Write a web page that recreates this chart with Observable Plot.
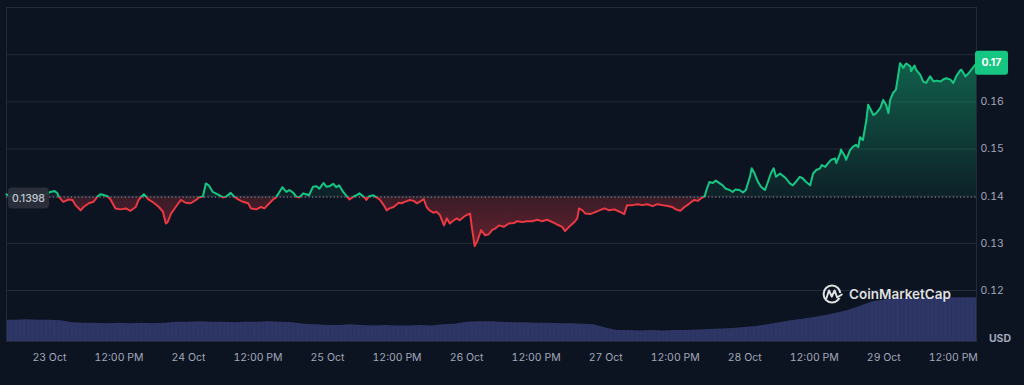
<!DOCTYPE html>
<html>
<head>
<meta charset="utf-8">
<script src="https://cdn.jsdelivr.net/npm/d3@7"></script>
<script src="https://cdn.jsdelivr.net/npm/@observablehq/plot@0.6"></script>
<style>
html, body { margin: 0; padding: 0; background: #0d1421; }
#chart { position: relative; width: 1024px; height: 385px; overflow: hidden; font-family: Inter, "Noto Sans", sans-serif; }
#chart svg { position: absolute; left: 0; top: 0; }
</style>
</head>
<body>
<div id="chart"></div>
<script>
// ---------- data ----------
// hours relative to 23 Oct 00:00
const priceHours = [-7.4,-6.4,-5.0,-3.3,-1.6,-0.5,0.2,0.9,1.4,1.6,2.4,3.3,4.0,4.5,5.4,5.9,6.8,7.6,8.3,8.8,9.2,10.0,10.6,11.4,12.3,13.2,14.0,14.9,15.4,16.3,17.1,18.0,18.9,19.6,20.1,20.4,21.0,21.8,22.7,23.5,24.4,25.3,25.8,26.5,27.0,27.5,28.2,28.7,29.3,30.0,30.5,31.3,31.9,32.6,33.4,34.3,34.8,35.7,36.5,37.1,37.8,38.6,39.1,39.7,40.2,40.9,41.4,42.1,42.6,43.1,43.8,44.3,44.8,45.5,46.1,46.6,47.3,47.8,48.3,49.0,49.5,50.0,50.7,51.3,51.8,52.5,53.0,53.5,54.2,54.7,55.2,55.9,56.5,57.0,57.7,58.2,58.7,59.4,60.3,60.8,61.3,62.2,62.9,63.4,63.9,64.6,65.1,65.6,66.3,66.8,67.4,68.1,68.6,69.1,69.8,70.3,70.8,71.5,72.0,72.6,72.9,73.4,73.9,74.5,75.2,75.8,76.4,76.9,77.6,78.4,79.3,80.2,80.7,81.6,82.4,83.3,84.2,85.0,85.9,86.8,87.6,88.5,89.0,89.7,90.6,91.1,91.4,92.0,92.5,93.3,94.0,94.9,95.8,96.6,97.5,98.4,99.2,99.7,100.6,101.5,102.3,103.2,104.1,104.9,105.8,106.7,107.5,108.1,108.9,109.6,110.1,110.6,111.3,111.9,112.4,113.1,113.4,113.9,114.5,115.0,115.7,116.2,116.7,117.4,117.9,118.4,119.1,119.7,120.2,120.9,121.2,121.7,122.3,122.8,123.5,124.0,124.5,125.0,125.4,126.1,126.6,127.1,127.8,128.3,128.8,129.5,130.0,130.6,131.3,131.8,132.3,133.0,133.3,133.9,134.4,134.9,135.6,135.8,136.5,136.6,137.3,137.5,138.2,138.7,139.2,139.6,139.9,140.4,141.0,141.3,141.6,142.2,142.7,143.4,143.9,144.4,144.8,145.1,145.6,146.1,146.5,146.8,147.4,147.7,147.9,148.6,148.7,149.3,149.6,150.3,150.8,151.3,152.0,152.6,153.1,153.8,154.3,154.8,155.5,156.0,156.5,157.2,157.4,158.1,158.6,159.1,159.8,160.0];
const priceValues = [0.1404,0.1398,0.1401,0.1399,0.1402,0.1405,0.1409,0.1411,0.1406,0.1399,0.1388,0.1393,0.1392,0.1381,0.1370,0.1377,0.1385,0.1388,0.1399,0.1404,0.1403,0.1400,0.1392,0.1374,0.1372,0.1374,0.1369,0.1377,0.1392,0.1404,0.1393,0.1386,0.1377,0.1367,0.1342,0.1345,0.1363,0.1377,0.1392,0.1386,0.1385,0.1392,0.1397,0.1399,0.1427,0.1423,0.1409,0.1406,0.1402,0.1397,0.1399,0.1407,0.1399,0.1393,0.1388,0.1385,0.1374,0.1372,0.1377,0.1374,0.1383,0.1393,0.1397,0.1409,0.1419,0.1409,0.1413,0.1407,0.1399,0.1397,0.1406,0.1404,0.1402,0.1420,0.1421,0.1416,0.1428,0.1420,0.1421,0.1426,0.1419,0.1423,0.1409,0.1400,0.1393,0.1399,0.1402,0.1406,0.1399,0.1392,0.1400,0.1402,0.1397,0.1393,0.1381,0.1370,0.1374,0.1377,0.1386,0.1385,0.1388,0.1392,0.1390,0.1385,0.1388,0.1394,0.1377,0.1370,0.1365,0.1367,0.1360,0.1338,0.1353,0.1342,0.1349,0.1353,0.1349,0.1356,0.1360,0.1363,0.1335,0.1294,0.1306,0.1328,0.1317,0.1319,0.1328,0.1331,0.1338,0.1335,0.1342,0.1343,0.1347,0.1345,0.1347,0.1347,0.1350,0.1347,0.1350,0.1345,0.1340,0.1335,0.1326,0.1335,0.1345,0.1353,0.1374,0.1370,0.1363,0.1362,0.1365,0.1370,0.1374,0.1370,0.1372,0.1367,0.1362,0.1381,0.1381,0.1383,0.1381,0.1383,0.1379,0.1383,0.1381,0.1379,0.1377,0.1372,0.1369,0.1377,0.1381,0.1386,0.1392,0.1390,0.1395,0.1400,0.1413,0.1430,0.1428,0.1433,0.1427,0.1423,0.1416,0.1413,0.1409,0.1414,0.1413,0.1408,0.1413,0.1441,0.1459,0.1448,0.1430,0.1420,0.1413,0.1430,0.1448,0.1459,0.1441,0.1448,0.1443,0.1438,0.1427,0.1423,0.1430,0.1441,0.1438,0.1430,0.1423,0.1448,0.1455,0.1459,0.1466,0.1462,0.1470,0.1477,0.1480,0.1470,0.1491,0.1499,0.1484,0.1477,0.1498,0.1505,0.1509,0.1504,0.1525,0.1519,0.1562,0.1594,0.1587,0.1572,0.1576,0.1587,0.1604,0.1594,0.1576,0.1604,0.1619,0.1626,0.1657,0.1682,0.1672,0.1679,0.1681,0.1675,0.1665,0.1677,0.1668,0.1657,0.1643,0.1640,0.1654,0.1643,0.1645,0.1643,0.1648,0.1650,0.1647,0.1640,0.1654,0.1667,0.1668,0.1654,0.1660,0.1668,0.1679,0.1682];

// volume readings every 2 hours (hour, relative volume units)
const volumeHours = [-8,-6,-4,-2,0,2,4,6,8,10,12,14,16,18,20,22,24,26,28,30,32,34,36,38,40,42,44,46,48,50,52,54,56,58,60,62,64,66,68,70,72,74,76,78,80,82,84,86,88,90,92,94,96,98,100,102,104,106,108,110,112,114,116,118,120,122,124,126,128,130,132,134,136,138,140,142,144,146,148,150,152,154,156,158,160];
const volumeValues = [4.1,4.1,4.2,4.1,4.1,4.0,3.6,3.5,3.5,3.4,3.5,3.4,3.5,3.4,3.5,3.7,3.7,3.8,3.7,3.7,3.6,3.7,3.7,3.8,3.7,3.6,3.3,3.2,3.1,3.1,3.2,3.1,3.0,3.1,3.0,3.0,3.1,3.0,3.2,3.3,3.7,3.8,3.8,3.7,3.6,3.6,3.5,3.5,3.4,3.4,3.3,3.2,2.6,2.1,2.1,2.0,2.1,2.0,2.1,2.1,2.2,2.3,2.4,2.5,2.7,2.9,3.2,3.6,4.0,4.3,4.6,5.0,5.5,6.0,6.8,7.6,8.0,8.2,8.3,8.3,8.3,8.4,8.4,8.4,8.4];

const openPrice = 0.1398;
const gridTicks = [0.12, 0.13, 0.14, 0.15, 0.16, 0.17];
const labelTicks = [0.12, 0.13, 0.14, 0.15, 0.16];
const timeTickHours = [0,12,24,36,48,60,72,84,96,108,120,132,144,156];
const timeTickLabels = ["23 Oct","12:00 PM","24 Oct","12:00 PM","25 Oct","12:00 PM","26 Oct","12:00 PM","27 Oct","12:00 PM","28 Oct","12:00 PM","29 Oct","12:00 PM"];
const currencyLabel = "USD";
const brandLabel = "CoinMarketCap";

// ---------- build ----------
const base = Date.UTC(2023, 9, 23);
const toDate = h => new Date(base + h * 3600e3);
const prices = priceHours.map((h, i) => ({date: toDate(h), price: priceValues[i], open: openPrice}));
const volumes = volumeHours.map((h, i) => ({date: toDate(h), volume: volumeValues[i]}));
const tickDates = timeTickHours.map(toDate);
const xDomain = [toDate(priceHours[0]), toDate(priceHours[priceHours.length - 1])];

const GREEN = "#16c784", RED = "#ea3943", GRID = "#222b39", TXT = "#a1a7bb";
const common = {
  width: 1024, height: 385,
  marginLeft: 6, marginRight: 48, marginTop: 7, marginBottom: 44,
  style: {background: "transparent", fontFamily: "Inter, 'Noto Sans', sans-serif"}
};

const volPlot = Plot.plot({
  ...common,
  x: {type: "utc", domain: xDomain, axis: null},
  y: {domain: [0, 10], range: [341, 289], axis: null},
  marks: [
    Plot.areaY(volumes, {x: "date", y: "volume", fill: "#2e3666", clip: true}),
    Plot.tickX(d3.range(-7, 160, 0.75).map(toDate), {stroke: "#283059", strokeWidth: 0.6, strokeOpacity: 0.6, clip: true})
  ]
});
// keep striation ticks only inside the volume area by clipping to it
{
  const ns0 = "http://www.w3.org/2000/svg";
  const areaPath = volPlot.querySelector('g[aria-label="area"] path');
  if (areaPath) {
    const defs0 = document.createElementNS(ns0, "defs");
    const cp = document.createElementNS(ns0, "clipPath");
    cp.setAttribute("id", "volClip");
    const p2 = document.createElementNS(ns0, "path");
    p2.setAttribute("d", areaPath.getAttribute("d"));
    const tr = areaPath.parentNode.getAttribute("transform");
    if (tr) p2.setAttribute("transform", tr);
    cp.appendChild(p2); defs0.appendChild(cp);
    volPlot.insertBefore(defs0, volPlot.firstChild);
    const tg = volPlot.querySelector('g[aria-label="tick"]');
    if (tg) tg.setAttribute("clip-path", "url(#volClip)");
  }
}

const pricePlot = Plot.plot({
  ...common,
  x: {type: "utc", domain: xDomain},
  y: {domain: [0.12, 0.18], range: [290, 7]},
  marks: [
    Plot.gridY(gridTicks, {stroke: GRID, strokeOpacity: 1}),
    Plot.frame({stroke: GRID}),
    Plot.areaY(prices, {x: "date", y1: "open", y2: "price", fill: GREEN, ariaDescription: "area-up"}),
    Plot.areaY(prices, {x: "date", y1: "open", y2: "price", fill: RED, ariaDescription: "area-down"}),
    Plot.ruleY([openPrice], {stroke: "#8f96a3", strokeDasharray: "1.2,2.4", strokeWidth: 1}),
    Plot.line(prices, {x: "date", y: "price", stroke: GREEN, strokeWidth: 2, ariaDescription: "line-up"}),
    Plot.line(prices, {x: "date", y: "price", stroke: RED, strokeWidth: 2, ariaDescription: "line-down"}),
    Plot.axisY(labelTicks, {anchor: "right", tickSize: 0, tickPadding: 4, tickFormat: d3.format(".2f"), fill: TXT, fontSize: 10.5, label: null}),
    Plot.axisX(tickDates, {tickSize: 0, tickPadding: 12, tickFormat: d => timeTickLabels[tickDates.findIndex(t => +t === +d)], fill: TXT, fontSize: 10.5, label: null})
  ]
});

const chart = document.getElementById("chart");
chart.appendChild(volPlot);
chart.appendChild(pricePlot);

// ---------- decorations using the plot's scales ----------
const ns = "http://www.w3.org/2000/svg";
function make(tag, attrs, parent, text) {
  const e = document.createElementNS(ns, tag);
  for (const k in attrs) e.setAttribute(k, attrs[k]);
  if (text != null) e.textContent = text;
  if (parent) parent.appendChild(e);
  return e;
}
const yS = pricePlot.scale("y");
const yBase = yS.apply(openPrice);
const yMax = yS.apply(d3.max(priceValues));
const yMin = yS.apply(d3.min(priceValues));

const defs = make("defs", {});
pricePlot.insertBefore(defs, pricePlot.firstChild);
const gUp = make("linearGradient", {id: "cmcFillUp", gradientUnits: "userSpaceOnUse", x1: 0, x2: 0, y1: yMax, y2: yBase}, defs);
make("stop", {offset: 0, "stop-color": GREEN, "stop-opacity": 0.42}, gUp);
make("stop", {offset: 1, "stop-color": GREEN, "stop-opacity": 0.07}, gUp);
const gDn = make("linearGradient", {id: "cmcFillDown", gradientUnits: "userSpaceOnUse", x1: 0, x2: 0, y1: yBase, y2: yMin}, defs);
make("stop", {offset: 0, "stop-color": RED, "stop-opacity": 0.2}, gDn);
make("stop", {offset: 1, "stop-color": RED, "stop-opacity": 0.4}, gDn);
const cUp = make("clipPath", {id: "cmcClipUp"}, defs);
make("rect", {x: 0, y: 0, width: 1024, height: yBase}, cUp);
const cDn = make("clipPath", {id: "cmcClipDown"}, defs);
make("rect", {x: 0, y: yBase, width: 1024, height: 385 - yBase}, cDn);

function styleMark(desc, clip, fill) {
  const g = pricePlot.querySelector(`g[aria-description="${desc}"]`);
  if (!g) return;
  g.setAttribute("clip-path", `url(#${clip})`);
  if (fill) {
    g.setAttribute("fill", `url(#${fill})`);
    g.querySelectorAll("path").forEach(p => p.setAttribute("fill", `url(#${fill})`));
  }
}
styleMark("area-up", "cmcClipUp", "cmcFillUp");
styleMark("line-up", "cmcClipUp");
styleMark("area-down", "cmcClipDown", "cmcFillDown");
styleMark("line-down", "cmcClipDown");

const P = pricePlot;
// watermark
make("circle", {cx: 832, cy: 294, r: 8.4, fill: "none", stroke: "#ffffff", "stroke-opacity": 0.88, "stroke-width": 2}, P);
make("rect", {x: 838, y: 293, width: 5, height: 5, fill: "#0d1421"}, P);
make("path", {d: "M826.5 298 L829 290.5 L831.8 296.5 L834.6 290.5 L837.2 297.5 L841.8 294.5", fill: "none", stroke: "#ffffff", "stroke-opacity": 0.88, "stroke-width": 2, "stroke-linejoin": "round", "stroke-linecap": "round"}, P);
make("text", {x: 951, y: 299, "text-anchor": "end", fill: "#ffffff", "fill-opacity": 0.88, "font-size": 13.5, "font-weight": 600, "font-family": "Inter, sans-serif"}, P, brandLabel);

// currency label
make("text", {x: 1000, y: 338, "text-anchor": "middle", "dominant-baseline": "central", fill: TXT, "font-size": 10.5, "font-weight": 700, "font-family": "Inter, sans-serif"}, P, currencyLabel);

// open price badge (left)
make("rect", {x: 8, y: yBase - 9, width: 41, height: 21, rx: 4, fill: "#2b313d", "fill-opacity": 0.92}, P);
make("text", {x: 28.5, y: yBase + 1.5, "text-anchor": "middle", "dominant-baseline": "central", fill: "#c3c7cf", "font-size": 10.5, "font-weight": 500, "font-family": "Inter, sans-serif"}, P, d3.format(".4f")(openPrice));

// last price badge (right)
const last = priceValues[priceValues.length - 1];
const yLast = yS.apply(last);
make("rect", {x: 975, y: yLast - 12, width: 33, height: 24, rx: 3, fill: GREEN}, P);
make("text", {x: 991.5, y: yLast, "text-anchor": "middle", "dominant-baseline": "central", fill: "#ffffff", "font-size": 10.5, "font-weight": 700, "font-family": "Inter, sans-serif"}, P, d3.format(".2f")(last));
</script>
</body>
</html>
